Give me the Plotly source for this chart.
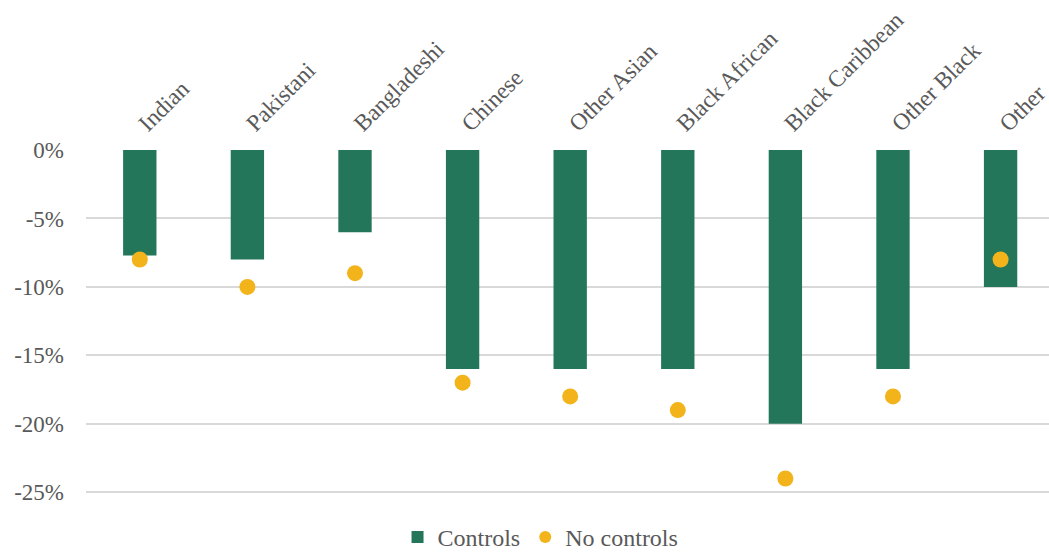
import plotly.graph_objects as go

categories = ["Indian", "Pakistani", "Bangladeshi", "Chinese", "Other Asian",
              "Black African", "Black Caribbean", "Other Black", "Other"]
controls = [-7.7, -8.0, -6.0, -16.0, -16.0, -16.0, -20.0, -16.0, -10.0]
no_controls = [-8.0, -10.0, -9.0, -17.0, -18.0, -19.0, -24.0, -18.0, -8.0]
y_tickvals = [0, -5, -10, -15, -20, -25]
y_ticktext = ["0%", "-5%", "-10%", "-15%", "-20%", "-25%"]

FONT = "Liberation Serif"
GREY = "#595959"

fig = go.Figure()
fig.add_trace(go.Bar(x=categories, y=controls, name="Controls",
                     marker=dict(color="#23765A", line=dict(width=0)), width=0.31))
fig.add_trace(go.Scatter(x=categories, y=no_controls, name="No controls", mode="markers",
                         marker=dict(color="#F2B31B", size=16, symbol="circle")))

fig.update_layout(
    width=1049, height=554,
    margin=dict(l=86, r=0, t=150, b=44),
    paper_bgcolor="white", plot_bgcolor="white",
    font=dict(family=FONT, size=23, color=GREY),
    showlegend=True,
    legend=dict(orientation="h", x=0.472, xanchor="center",
                yref="container", y=0.03, yanchor="middle",
                font=dict(family=FONT, size=24, color=GREY), itemsizing="constant",
                traceorder="normal", itemwidth=30),
    xaxis=dict(side="top", tickangle=-45, showgrid=False, showline=False, ticks="",
               tickfont=dict(family=FONT, size=23.5, color=GREY), zeroline=False,
               automargin=False, range=[-0.5, 8.45], ticklabelstandoff=8),
    yaxis=dict(range=[-26.3, 0], tickvals=y_tickvals, ticktext=y_ticktext,
               showgrid=True, gridcolor="#D9D9D9", gridwidth=1.5, zeroline=False,
               tickfont=dict(family=FONT, size=23, color=GREY), ticks="", ticklen=0,
               showline=False, automargin=False, ticklabelstandoff=21),
)

fig.write_html("out.html", post_script="document.body.style.margin='0px';",
               config={"displayModeBar": False})
